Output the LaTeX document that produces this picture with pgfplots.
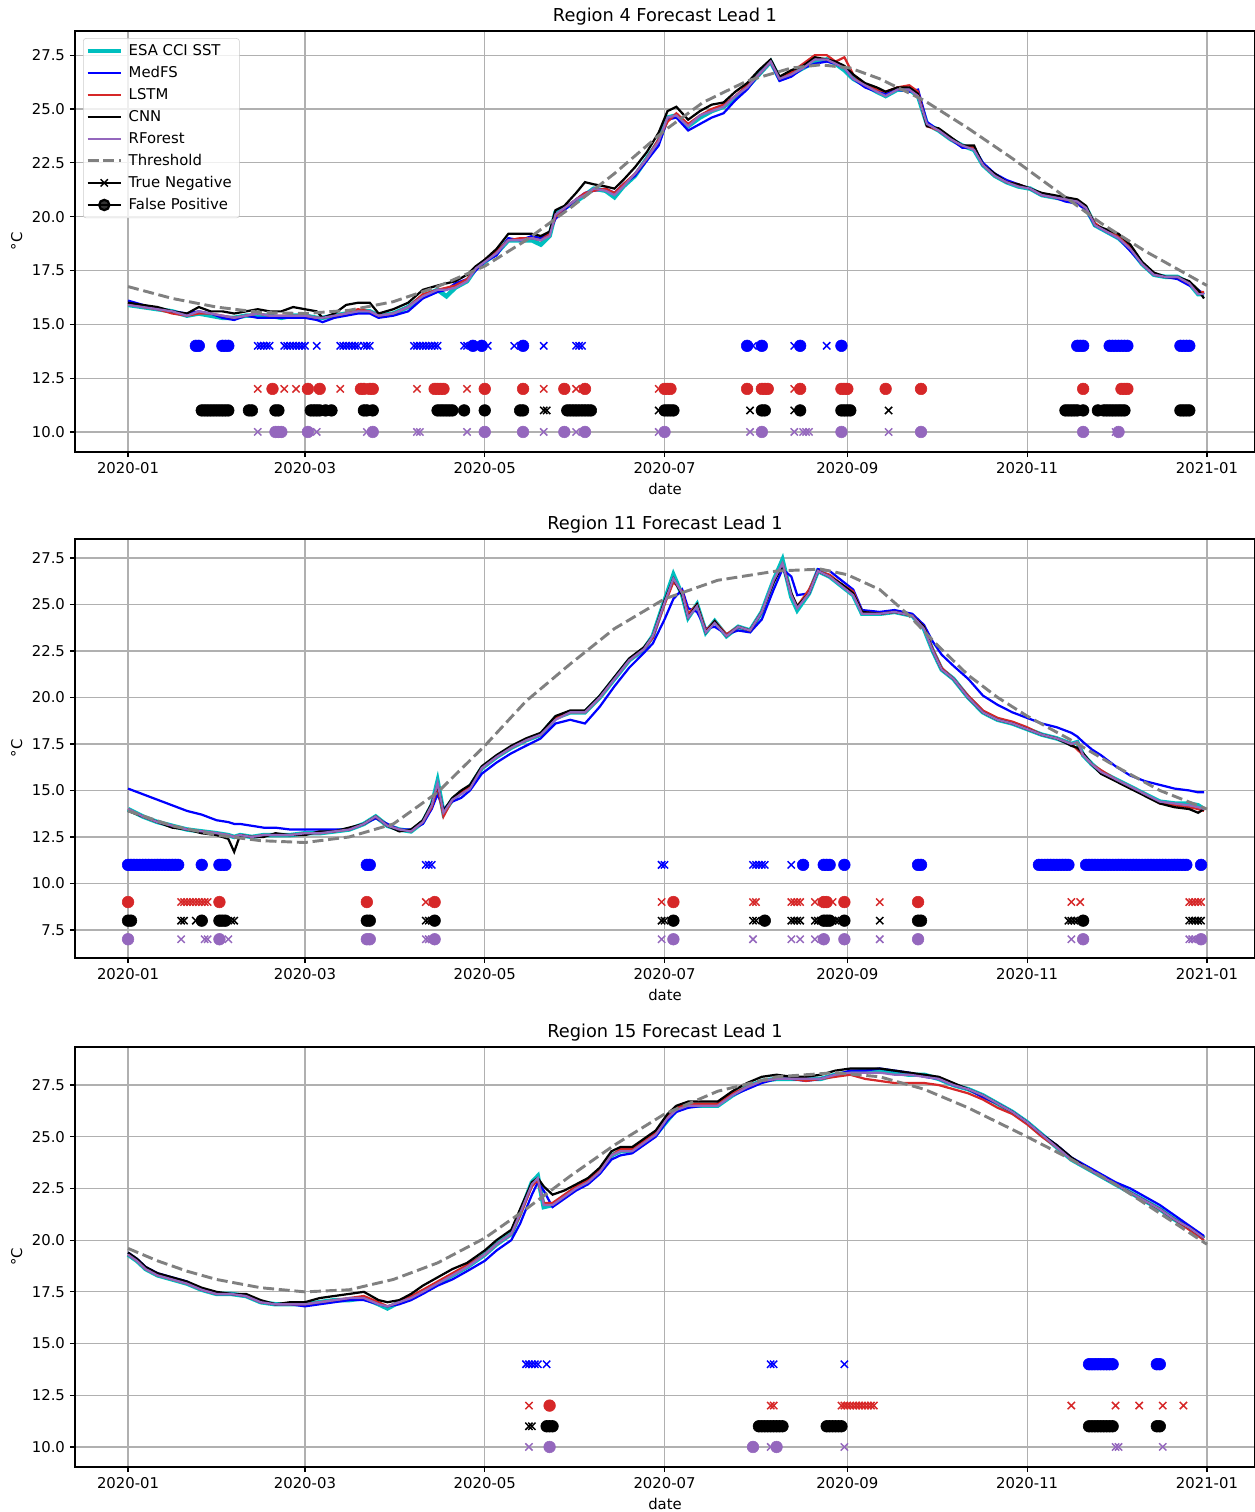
\documentclass[border=0pt]{standalone}
\usepackage{fontspec}
\setmainfont{DejaVu Sans}
\usepackage{pgfplots}
\usepackage{pgfplotstable}
\pgfplotsset{compat=1.18}

\definecolor{esa}{HTML}{00BFBF}
\definecolor{medfs}{HTML}{0000FF}
\definecolor{lstm}{HTML}{D62728}
\definecolor{rf}{HTML}{9467BD}
\definecolor{thr}{HTML}{808080}
\definecolor{gridc}{HTML}{B0B0B0}
\definecolor{legc}{HTML}{CCCCCC}

% columns: day, ESA CCI SST, MedFS, LSTM, CNN, RForest
\pgfplotstableread{
d s m l c r
0 15.9 16.1 16.0 16.0 15.9
5 15.8 15.9 15.8 15.9 15.8
10 15.7 15.7 15.7 15.8 15.7
15 15.6 15.6 15.5 15.6 15.6
20 15.4 15.5 15.4 15.5 15.4
24 15.5 15.6 15.5 15.8 15.6
28 15.4 15.5 15.5 15.6 15.5
32 15.3 15.3 15.4 15.6 15.4
36 15.3 15.2 15.3 15.5 15.3
40 15.4 15.4 15.4 15.6 15.4
44 15.4 15.3 15.5 15.7 15.5
48 15.4 15.3 15.4 15.6 15.4
52 15.3 15.3 15.4 15.6 15.4
56 15.4 15.3 15.4 15.8 15.4
60 15.4 15.3 15.4 15.7 15.4
64 15.3 15.2 15.3 15.6 15.3
66 15.3 15.1 15.3 15.3 15.3
70 15.4 15.3 15.4 15.5 15.4
74 15.5 15.4 15.5 15.9 15.5
78 15.6 15.5 15.7 16.0 15.6
82 15.6 15.5 15.6 16.0 15.6
85 15.4 15.3 15.4 15.5 15.4
90 15.5 15.4 15.5 15.7 15.5
95 15.8 15.6 15.8 16.0 15.8
100 16.3 16.2 16.4 16.6 16.3
105 16.6 16.5 16.6 16.8 16.6
108 16.3 16.6 16.7 16.9 16.6
111 16.7 16.9 16.8 17.0 16.7
115 17.0 17.1 17.1 17.3 17.0
118 17.6 17.5 17.6 17.7 17.6
121 17.9 17.9 18.0 18.0 17.9
125 18.3 18.2 18.4 18.5 18.3
129 18.9 19.0 18.9 19.2 18.9
133 18.9 18.9 19.0 19.2 18.9
137 18.9 19.1 19.0 19.2 19.0
140 18.7 19.0 18.9 19.1 18.9
143 19.1 19.3 19.2 19.3 19.1
145 20.2 19.9 20.0 20.3 20.1
148 20.4 20.3 20.4 20.5 20.4
152 20.7 20.8 20.8 21.1 20.8
155 21.0 21.1 21.1 21.6 21.0
158 21.3 21.2 21.2 21.5 21.3
162 21.2 21.3 21.3 21.4 21.2
165 20.9 21.1 21.1 21.3 21.0
168 21.4 21.5 21.5 21.7 21.4
172 21.9 21.9 22.0 22.3 22.0
176 22.7 22.6 22.7 23.0 22.7
180 23.5 23.3 23.6 23.9 23.5
183 24.6 24.5 24.4 24.9 24.6
186 24.7 24.6 24.8 25.1 24.7
190 24.2 24.0 24.3 24.5 24.2
194 24.6 24.3 24.7 24.9 24.7
198 24.9 24.6 25.0 25.2 24.9
202 25.1 24.8 25.2 25.3 25.1
206 25.5 25.4 25.6 25.8 25.6
210 26.0 25.9 26.1 26.2 26.0
214 26.6 26.6 26.6 26.8 26.6
218 27.2 27.2 27.2 27.3 27.2
221 26.4 26.3 26.4 26.5 26.4
225 26.6 26.5 26.7 26.8 26.6
229 26.9 26.9 27.1 27.0 26.9
233 27.2 27.1 27.5 27.4 27.3
237 27.3 27.2 27.5 27.3 27.3
240 27.1 27.1 27.2 27.2 27.1
243 26.8 26.9 27.4 27.0 26.9
246 26.4 26.4 26.6 26.6 26.4
250 26.1 26.0 26.1 26.2 26.1
254 25.8 25.8 25.9 26.0 25.8
257 25.6 25.7 25.8 25.8 25.6
261 25.9 25.9 26.0 26.0 25.9
265 25.9 25.8 26.1 26.0 25.9
268 25.6 25.9 25.8 25.7 25.6
271 24.3 24.4 24.2 24.2 24.3
275 24.0 24.0 24.0 24.1 24.0
279 23.6 23.6 23.6 23.7 23.6
283 23.3 23.2 23.3 23.3 23.3
287 23.1 23.2 23.2 23.3 23.1
290 22.4 22.5 22.4 22.4 22.4
294 21.9 22.0 21.9 22.0 21.9
298 21.6 21.7 21.6 21.6 21.6
302 21.4 21.5 21.5 21.5 21.4
306 21.3 21.3 21.3 21.3 21.3
310 21.0 21.0 21.0 21.1 21.0
314 20.9 20.9 20.9 21.0 20.9
318 20.8 20.7 20.8 20.9 20.8
322 20.7 20.6 20.7 20.8 20.7
325 20.4 20.3 20.4 20.5 20.4
328 19.6 19.6 19.7 19.6 19.6
332 19.3 19.3 19.3 19.4 19.3
336 19.0 19.0 19.1 19.2 19.0
340 18.5 18.4 18.6 18.7 18.5
344 17.8 17.8 17.8 17.9 17.8
348 17.3 17.3 17.3 17.4 17.3
352 17.2 17.2 17.2 17.2 17.2
356 17.2 17.1 17.2 17.2 17.2
360 16.9 16.8 16.9 17.0 16.9
363 16.4 16.6 16.5 16.6 16.4
365 16.4 16.4 16.5 16.2 16.4
}\regA

\pgfplotstableread{
d t
0 16.75
15 16.2
30 15.8
45 15.55
60 15.5
75 15.65
90 16.05
105 16.75
121 17.7
135 18.9
150 20.4
165 22.0
182 24.0
195 25.3
210 26.3
225 26.9
235 27.05
245 26.9
255 26.4
270 25.4
285 24.1
300 22.7
315 21.2
330 19.7
345 18.4
366 16.8
}\thrA

\pgfplotstableread{
d s m l c r
0 14.0 15.1 14.0 13.9 14.0
5 13.6 14.8 13.6 13.6 13.6
10 13.3 14.5 13.3 13.3 13.3
15 13.1 14.2 13.1 13.0 13.1
20 12.9 13.9 12.9 12.9 12.9
25 12.8 13.7 12.8 12.7 12.8
30 12.7 13.4 12.7 12.6 12.7
34 12.6 13.3 12.6 12.4 12.6
36 12.5 13.2 12.5 11.7 12.5
38 12.6 13.2 12.6 12.6 12.6
42 12.5 13.1 12.5 12.5 12.5
46 12.6 13.0 12.6 12.5 12.6
50 12.6 13.0 12.6 12.7 12.6
55 12.6 12.9 12.6 12.6 12.6
60 12.7 12.9 12.7 12.6 12.7
65 12.7 12.9 12.7 12.8 12.7
70 12.8 12.9 12.8 12.8 12.8
75 12.9 12.9 12.9 13.0 12.9
80 13.2 13.2 13.2 13.2 13.2
84 13.6 13.5 13.6 13.6 13.6
88 13.1 13.2 13.1 13.1 13.1
92 12.9 12.9 12.9 12.8 12.9
96 12.8 12.9 12.8 12.9 12.8
100 13.3 13.2 13.3 13.4 13.3
103 14.2 14.0 14.1 14.3 14.2
105 15.5 14.8 15.2 15.3 15.4
107 13.8 14.0 13.6 13.9 13.8
110 14.5 14.4 14.5 14.6 14.5
113 14.9 14.6 14.9 15.0 14.8
116 15.2 15.0 15.2 15.3 15.1
120 16.2 15.9 16.2 16.3 16.2
125 16.8 16.5 16.8 16.9 16.8
130 17.3 17.0 17.3 17.4 17.3
135 17.7 17.4 17.7 17.8 17.7
140 18.0 17.8 18.0 18.1 18.0
145 18.9 18.6 18.9 19.0 18.8
150 19.2 18.8 19.2 19.3 19.2
155 19.2 18.6 19.2 19.3 19.2
160 20.0 19.5 20.0 20.1 20.0
165 21.0 20.6 21.0 21.1 21.0
170 22.0 21.6 22.0 22.1 22.0
175 22.6 22.4 22.6 22.7 22.6
178 23.3 22.9 23.2 23.3 23.3
182 25.2 24.2 25.0 25.2 25.1
185 26.6 25.3 26.2 26.4 26.4
188 25.5 25.8 25.7 25.5 25.6
190 24.3 24.8 24.5 24.3 24.3
193 25.0 24.6 25.0 25.0 24.9
196 23.5 23.7 23.6 23.5 23.5
199 24.1 23.8 24.1 24.1 24.0
203 23.3 23.4 23.4 23.3 23.3
207 23.8 23.6 23.8 23.8 23.8
211 23.6 23.5 23.6 23.6 23.6
215 24.6 24.2 24.6 24.6 24.6
219 26.3 25.8 26.2 26.2 26.3
222 27.4 26.9 27.2 27.1 27.2
225 25.4 26.5 25.6 25.6 25.5
227 24.7 25.5 24.9 24.9 24.8
231 25.6 25.6 25.8 25.6 25.6
234 26.8 26.9 26.8 26.8 26.8
238 26.5 26.8 26.6 26.5 26.5
242 26.0 26.3 26.1 26.1 26.0
246 25.5 25.8 25.7 25.6 25.5
249 24.5 24.7 24.6 24.6 24.5
255 24.5 24.6 24.5 24.5 24.5
260 24.6 24.7 24.6 24.6 24.6
266 24.4 24.5 24.4 24.4 24.4
270 23.7 23.9 23.8 23.8 23.7
273 22.5 23.0 22.6 22.5 22.5
276 21.5 22.3 21.6 21.5 21.5
280 21.0 21.7 21.0 21.0 21.0
285 20.0 21.0 20.1 20.0 20.0
290 19.2 20.1 19.3 19.2 19.2
295 18.8 19.6 18.9 18.8 18.8
300 18.6 19.2 18.7 18.6 18.6
305 18.3 18.9 18.4 18.3 18.3
310 18.0 18.6 18.0 18.0 18.0
315 17.8 18.4 17.8 17.8 17.8
320 17.5 18.1 17.5 17.4 17.5
322 17.6 17.9 17.2 17.3 17.6
324 16.9 17.6 16.9 17.0 16.9
327 16.4 17.2 16.4 16.4 16.4
330 16.0 16.9 16.1 15.9 16.0
335 15.6 16.3 15.6 15.5 15.6
340 15.2 15.8 15.2 15.1 15.2
345 14.8 15.5 14.8 14.7 14.8
350 14.4 15.3 14.3 14.3 14.4
355 14.3 15.1 14.2 14.1 14.3
360 14.3 15.0 14.1 14.0 14.2
363 14.2 14.9 14.0 13.8 14.1
365 14.0 14.9 13.9 14.0 14.0
}\regB

\pgfplotstableread{
d t
0 13.9
15 13.1
30 12.6
45 12.3
60 12.2
75 12.5
90 13.2
105 14.9
121 17.4
135 19.8
150 21.8
165 23.7
182 25.3
200 26.3
220 26.8
235 26.9
244 26.6
255 25.8
265 24.4
274 22.9
285 21.2
295 20.0
305 19.0
320 17.7
335 16.3
350 15.0
366 14.0
}\thrB

\pgfplotstableread{
d s m l c r
0 19.3 19.4 19.3 19.4 19.3
3 19.0 19.1 19.0 19.1 19.0
6 18.6 18.7 18.6 18.7 18.6
10 18.3 18.4 18.3 18.4 18.3
15 18.1 18.2 18.1 18.2 18.1
20 17.9 18.0 17.9 18.0 17.9
25 17.6 17.6 17.6 17.7 17.6
30 17.4 17.4 17.4 17.5 17.4
35 17.4 17.4 17.4 17.4 17.4
40 17.3 17.3 17.3 17.4 17.3
45 17.0 17.0 17.0 17.1 17.0
50 16.9 16.9 16.9 16.9 16.9
55 16.9 16.9 16.9 17.0 16.9
60 16.9 16.8 16.9 17.0 16.9
65 17.0 16.9 17.0 17.2 17.0
70 17.1 17.0 17.1 17.3 17.1
75 17.1 17.1 17.2 17.4 17.2
80 17.2 17.1 17.3 17.5 17.2
85 16.9 16.9 17.0 17.1 16.9
88 16.7 16.8 16.8 17.0 16.8
92 17.0 16.9 17.0 17.1 17.0
96 17.2 17.1 17.3 17.4 17.2
100 17.5 17.4 17.6 17.8 17.5
105 17.9 17.8 18.0 18.2 17.9
110 18.3 18.1 18.4 18.6 18.3
115 18.7 18.5 18.8 18.9 18.7
121 19.3 19.0 19.3 19.5 19.3
125 19.8 19.5 19.8 20.0 19.8
130 20.3 20.0 20.3 20.5 20.3
133 21.3 20.8 21.2 21.5 21.3
137 22.8 22.2 22.6 22.8 22.7
139 23.1 22.8 22.9 23.0 23.0
141 21.6 22.4 21.8 22.6 21.7
144 21.7 21.6 21.8 22.2 21.7
148 22.1 22.0 22.2 22.4 22.1
152 22.5 22.4 22.6 22.7 22.5
156 22.8 22.7 22.9 23.0 22.8
160 23.3 23.2 23.4 23.5 23.3
164 24.1 23.9 24.1 24.3 24.1
167 24.3 24.1 24.4 24.5 24.3
171 24.3 24.2 24.4 24.5 24.3
175 24.7 24.6 24.8 24.9 24.7
179 25.1 25.0 25.2 25.3 25.1
183 25.8 25.8 26.0 26.1 25.9
186 26.3 26.2 26.4 26.5 26.3
190 26.5 26.4 26.6 26.7 26.5
195 26.5 26.5 26.6 26.7 26.5
200 26.5 26.6 26.6 26.7 26.5
205 27.0 27.0 27.1 27.2 27.0
210 27.4 27.3 27.4 27.6 27.4
215 27.7 27.6 27.7 27.9 27.7
220 27.8 27.8 27.8 28.0 27.8
225 27.8 27.8 27.8 27.9 27.8
230 27.8 27.7 27.7 27.9 27.8
235 27.8 27.8 27.8 28.0 27.8
240 28.0 28.0 27.9 28.2 28.0
245 28.1 28.2 28.0 28.3 28.1
250 28.2 28.2 27.8 28.3 28.1
255 28.2 28.3 27.7 28.3 28.1
260 28.1 28.2 27.6 28.2 28.0
265 28.0 28.1 27.6 28.1 28.0
270 28.0 27.9 27.6 28.0 27.9
275 27.8 27.8 27.5 27.9 27.8
280 27.5 27.5 27.3 27.6 27.5
285 27.3 27.3 27.1 27.3 27.3
290 27.0 26.9 26.8 27.0 27.0
295 26.6 26.6 26.4 26.6 26.6
300 26.2 26.2 26.1 26.2 26.2
305 25.7 25.7 25.6 25.7 25.7
310 25.1 25.1 25.0 25.1 25.1
315 24.5 24.6 24.5 24.6 24.5
320 23.9 24.0 23.9 24.0 23.9
325 23.5 23.6 23.5 23.5 23.5
330 23.1 23.2 23.1 23.1 23.1
335 22.7 22.8 22.7 22.7 22.7
340 22.3 22.5 22.3 22.3 22.3
345 21.9 22.1 21.9 21.9 21.9
350 21.5 21.7 21.5 21.5 21.5
355 21.0 21.2 21.0 21.0 21.0
360 20.6 20.7 20.5 20.6 20.6
365 20.1 20.2 20.0 20.1 20.1
}\regC

\pgfplotstableread{
d t
0 19.6
10 19.0
20 18.5
30 18.1
45 17.7
60 17.5
75 17.6
90 18.1
105 18.9
121 20.1
135 21.5
150 23.1
165 24.6
182 26.1
200 27.2
220 27.9
240 28.1
255 27.9
270 27.3
285 26.4
305 25.0
320 23.9
335 22.7
350 21.3
366 19.8
}\thrC

\pgfplotsset{
  panel/.style={
    scale only axis, width=849.6pt, anchor=north west,
    xmin=-18, xmax=382.3,
    xtick={0,60,121,182,244,305,366},
    xticklabels={2020-01,2020-03,2020-05,2020-07,2020-09,2020-11,2021-01},
    grid=major, major grid style={gridc, line width=0.85pt},
    tick align=outside, tick pos=left, major tick length=3.7pt,
    every tick/.style={black, line width=0.85pt},
    axis line style={line width=0.85pt},
    /pgf/number format/assume math mode=true,
    yticklabel style={/pgf/number format/fixed, /pgf/number format/fixed zerofill, /pgf/number format/precision=1},
    ticklabel style={font=\fontsize{10.7}{12.8}\selectfont},
    label style={font=\fontsize{10.7}{12.8}\selectfont},
    title style={font=\fontsize{12.8}{15}\selectfont, at={(0.5,1)}, anchor=base, yshift=0.5pt},
    xlabel={date}, ylabel={°C},
    legend image code/.code={\draw[mark repeat=2,mark phase=2,#1] plot coordinates {(0pt,0pt)(12pt,0pt)(24pt,0pt)};},
  },
  sst/.style={esa, line width=3.2pt},
  mfs/.style={medfs, line width=1.6pt},
  lst/.style={lstm, line width=1.6pt},
  cnn/.style={black, line width=1.6pt},
  rfo/.style={rf, line width=1.6pt},
  thd/.style={thr, line width=2.1pt, dash pattern=on 7.9pt off 3.4pt},
  tn/.style={only marks, mark=x, mark size=3.7pt, line width=1.05pt, forget plot},
  fp/.style={only marks, mark=*, mark size=4.2pt, forget plot},
}

\begin{document}
\begin{tikzpicture}

% ---------- Region 4 ----------
\begin{axis}[panel, at={(0pt,0pt)}, height=303.1pt,
  ymin=9.07, ymax=28.62, ytick={10,12.5,...,27.5},
  title={Region 4 Forecast Lead 1},
  legend style={at={(0.0068,0.983)}, anchor=north west, draw=legc, rounded corners=2pt,
    fill=white, fill opacity=0.8, text opacity=1, font=\fontsize{10.7}{12.8}\selectfont,
    row sep=2.3pt, inner xsep=1.5pt, inner ysep=2.5pt, nodes={inner xsep=4pt}},
  legend cell align=left]
\addplot[sst] table[x=d,y=s] {\regA};
\addplot[mfs] table[x=d,y=m] {\regA};
\addplot[lst] table[x=d,y=l] {\regA};
\addplot[cnn] table[x=d,y=c] {\regA};
\addplot[rfo] table[x=d,y=r] {\regA};
\addplot[thd] table[x=d,y=t] {\thrA};
\addlegendimage{black, line width=1.6pt, mark=x, mark size=3.7pt, mark options={line width=1.05pt}}
\addlegendimage{black, line width=1.6pt, mark=*, mark size=3.7pt}
\legend{ESA CCI SST, MedFS, LSTM, CNN, RForest, Threshold, True Negative, False Positive}
% MedFS
\addplot[tn, medfs] coordinates {(44,14)(45,14)(46,14)(47,14)(48,14)(53,14)(54,14)(55,14)(56,14)(57,14)(58,14)(59,14)(60,14)(64,14)(72,14)(73,14)(74,14)(75,14)(76,14)(77,14)(78,14)(80,14)(81,14)(82,14)(97,14)(98,14)(99,14)(100,14)(101,14)(102,14)(103,14)(104,14)(105,14)(114,14)(115,14)(119,14)(122,14)(131,14)(141,14)(152,14)(153,14)(154,14)(212,14)(226,14)(237,14)};
\addplot[fp, medfs] coordinates {(23,14)(24,14)(32,14)(33,14)(34,14)(117,14)(120,14)(134,14)(210,14)(215,14)(228,14)(242,14)(322,14)(323,14)(324,14)(333,14)(334,14)(335,14)(336,14)(337,14)(338,14)(339,14)(357,14)(358,14)(359,14)(360,14)};
% LSTM
\addplot[tn, lstm] coordinates {(44,12)(53,12)(57,12)(72,12)(98,12)(115,12)(141,12)(152,12)(180,12)(226,12)};
\addplot[fp, lstm] coordinates {(49,12)(61,12)(65,12)(79,12)(80,12)(82,12)(83,12)(104,12)(105,12)(106,12)(107,12)(121,12)(134,12)(148,12)(155,12)(182,12)(183,12)(184,12)(210,12)(215,12)(216,12)(217,12)(228,12)(242,12)(243,12)(244,12)(257,12)(269,12)(324,12)(337,12)(338,12)(339,12)};
% CNN
\addplot[tn, black] coordinates {(141,11)(142,11)(180,11)(211,11)(226,11)(258,11)};
\addplot[fp, black] coordinates {(25,11)(26,11)(27,11)(28,11)(29,11)(30,11)(31,11)(32,11)(33,11)(34,11)(41,11)(42,11)(50,11)(51,11)(62,11)(63,11)(64,11)(65,11)(67,11)(69,11)(80,11)(81,11)(83,11)(105,11)(106,11)(107,11)(108,11)(109,11)(110,11)(114,11)(121,11)(133,11)(134,11)(149,11)(150,11)(151,11)(152,11)(153,11)(154,11)(155,11)(156,11)(157,11)(182,11)(183,11)(184,11)(185,11)(215,11)(216,11)(228,11)(242,11)(243,11)(244,11)(245,11)(318,11)(319,11)(320,11)(321,11)(322,11)(324,11)(329,11)(331,11)(332,11)(333,11)(334,11)(335,11)(336,11)(337,11)(338,11)(357,11)(358,11)(359,11)(360,11)};
% RForest
\addplot[tn, rf] coordinates {(44,10)(64,10)(81,10)(98,10)(99,10)(115,10)(141,10)(152,10)(180,10)(211,10)(226,10)(229,10)(230,10)(231,10)(258,10)(335,10)};
\addplot[fp, rf] coordinates {(50,10)(51,10)(52,10)(61,10)(83,10)(121,10)(134,10)(148,10)(155,10)(182,10)(215,10)(242,10)(269,10)(324,10)(336,10)};
\end{axis}

% ---------- Region 11 ----------
\begin{axis}[panel, at={(0pt,-365.76pt)}, height=301.7pt,
  ymin=5.99, ymax=28.52, ytick={7.5,10,...,27.5},
  title={Region 11 Forecast Lead 1}]
\addplot[sst] table[x=d,y=s] {\regB};
\addplot[mfs] table[x=d,y=m] {\regB};
\addplot[lst] table[x=d,y=l] {\regB};
\addplot[cnn] table[x=d,y=c] {\regB};
\addplot[rfo] table[x=d,y=r] {\regB};
\addplot[thd] table[x=d,y=t] {\thrB};
% MedFS
\addplot[tn, medfs] coordinates {(101,11)(102,11)(103,11)(181,11)(182,11)(212,11)(213,11)(214,11)(215,11)(216,11)(225,11)};
\addplot[fp, medfs] coordinates {(0,11)(1,11)(2,11)(3,11)(4,11)(5,11)(6,11)(7,11)(8,11)(9,11)(10,11)(11,11)(12,11)(13,11)(14,11)(15,11)(16,11)(17,11)(25,11)(31,11)(32,11)(33,11)(81,11)(82,11)(229,11)(236,11)(237,11)(238,11)(243,11)(268,11)(269,11)(309,11)(310,11)(311,11)(312,11)(313,11)(314,11)(315,11)(316,11)(317,11)(318,11)(319,11)(325,11)(326,11)(327,11)(328,11)(329,11)(330,11)(331,11)(332,11)(333,11)(334,11)(335,11)(336,11)(337,11)(338,11)(339,11)(340,11)(341,11)(342,11)(343,11)(344,11)(345,11)(346,11)(347,11)(348,11)(349,11)(350,11)(351,11)(352,11)(353,11)(354,11)(355,11)(356,11)(357,11)(358,11)(359,11)(364,11)};
% LSTM
\addplot[tn, lstm] coordinates {(18,9)(19,9)(20,9)(21,9)(22,9)(23,9)(24,9)(25,9)(26,9)(27,9)(101,9)(181,9)(212,9)(213,9)(225,9)(226,9)(227,9)(228,9)(233,9)(239,9)(255,9)(320,9)(323,9)(360,9)(361,9)(362,9)(363,9)(364,9)};
\addplot[fp, lstm] coordinates {(0,9)(31,9)(81,9)(104,9)(185,9)(236,9)(237,9)(243,9)(268,9)};
% CNN
\addplot[tn, black] coordinates {(18,8)(19,8)(23,8)(35,8)(36,8)(101,8)(102,8)(103,8)(181,8)(182,8)(212,8)(213,8)(225,8)(226,8)(227,8)(228,8)(233,8)(234,8)(235,8)(239,8)(240,8)(241,8)(255,8)(319,8)(320,8)(321,8)(322,8)(360,8)(361,8)(362,8)(363,8)(364,8)};
\addplot[fp, black] coordinates {(0,8)(1,8)(25,8)(31,8)(32,8)(33,8)(81,8)(82,8)(104,8)(185,8)(216,8)(236,8)(237,8)(238,8)(243,8)(268,8)(269,8)(324,8)};
% RForest
\addplot[tn, rf] coordinates {(18,7)(26,7)(27,7)(34,7)(101,7)(102,7)(103,7)(181,7)(212,7)(225,7)(228,7)(233,7)(255,7)(320,7)(360,7)(361,7)(362,7)};
\addplot[fp, rf] coordinates {(0,7)(31,7)(81,7)(82,7)(104,7)(185,7)(236,7)(243,7)(268,7)(324,7)(364,7)};
\end{axis}

% ---------- Region 15 ----------
\begin{axis}[panel, at={(0pt,-731.52pt)}, height=302.4pt,
  ymin=9.03, ymax=29.34, ytick={10,12.5,...,27.5},
  title={Region 15 Forecast Lead 1}]
\addplot[sst] table[x=d,y=s] {\regC};
\addplot[mfs] table[x=d,y=m] {\regC};
\addplot[lst] table[x=d,y=l] {\regC};
\addplot[cnn] table[x=d,y=c] {\regC};
\addplot[rfo] table[x=d,y=r] {\regC};
\addplot[thd] table[x=d,y=t] {\thrC};
% MedFS
\addplot[tn, medfs] coordinates {(135,14)(136,14)(137,14)(138,14)(139,14)(142,14)(218,14)(219,14)(243,14)};
\addplot[fp, medfs] coordinates {(326,14)(327,14)(328,14)(329,14)(330,14)(331,14)(332,14)(333,14)(334,14)(349,14)(350,14)};
% LSTM
\addplot[tn, lstm] coordinates {(136,12)(218,12)(219,12)(242,12)(243,12)(244,12)(245,12)(246,12)(247,12)(248,12)(249,12)(250,12)(251,12)(252,12)(253,12)(320,12)(335,12)(343,12)(351,12)(358,12)};
\addplot[fp, lstm] coordinates {(143,12)};
% CNN
\addplot[tn, black] coordinates {(136,11)(137,11)};
\addplot[fp, black] coordinates {(142,11)(143,11)(144,11)(214,11)(215,11)(216,11)(217,11)(218,11)(219,11)(220,11)(221,11)(222,11)(237,11)(238,11)(239,11)(240,11)(241,11)(242,11)(326,11)(327,11)(328,11)(329,11)(330,11)(331,11)(332,11)(333,11)(334,11)(349,11)(350,11)};
% RForest
\addplot[tn, rf] coordinates {(136,10)(218,10)(243,10)(335,10)(336,10)(351,10)};
\addplot[fp, rf] coordinates {(143,10)(212,10)(220,10)};
\end{axis}

\pgfresetboundingbox
\path[use as bounding box] (-54pt,22.32pt) rectangle (849.6pt,-1066.32pt);
\end{tikzpicture}
\end{document}
